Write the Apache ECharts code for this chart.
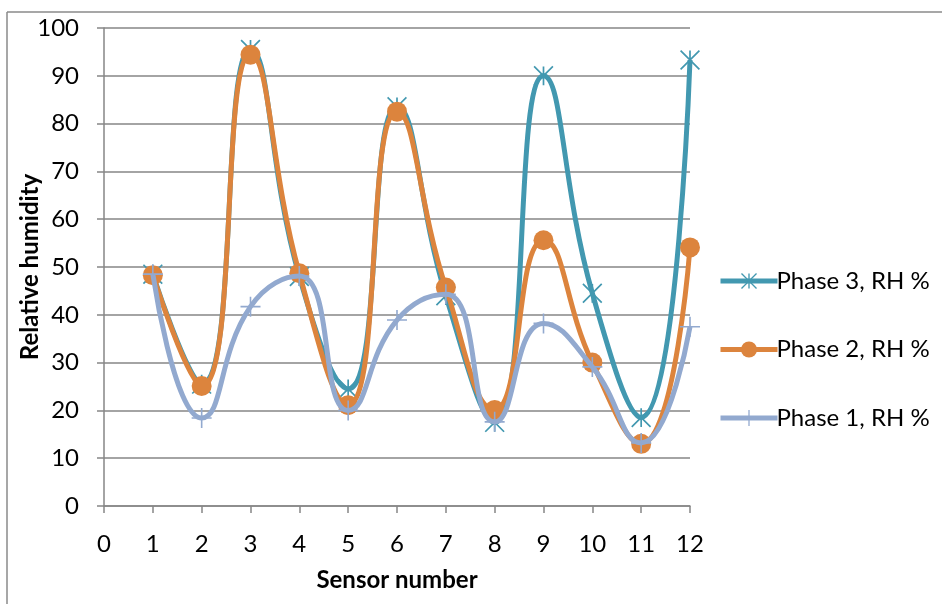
<!DOCTYPE html>
<html>
<head>
<meta charset="utf-8">
<script src="https://cdn.jsdelivr.net/npm/echarts@6/dist/echarts.min.js"></script>
<style>
html,body{margin:0;padding:0;background:#fff;}
#chart{width:942px;height:604px;}
</style>
</head>
<body>
<div id="chart"></div>
<script>
var sensors = [1, 2, 3, 4, 5, 6, 7, 8, 9, 10, 11, 12];
var phase3 = [48.5, 25.5, 95.5, 48, 24.5, 83.5, 44, 17.5, 90, 44.5, 18.5, 93.3];
var phase2 = [48.3, 25.1, 94.4, 48.7, 21.1, 82.5, 45.7, 20.1, 55.6, 30.0, 13.0, 54.1];
var phase1 = [48.5, 18.4, 41.7, 48.1, 20.0, 38.9, 44.3, 17.6, 38.2, 29.1, 13.2, 37.5];
var seriesNames = ['Phase 3, RH %', 'Phase 2, RH %', 'Phase 1, RH %'];
var xTicks = {min: 0, max: 12, interval: 1};
var yTicks = {min: 0, max: 100, interval: 10};

var colors = ['#4298B0', '#DC843D', '#92A9CF'];
var asterisk = 'path://M9.1 0L10.9 0L10.9 20L9.1 20Z M0.636 -0.636L20.636 19.364L19.364 20.636L-0.636 0.636Z M19.364 -0.636L20.636 0.636L0.636 20.636L-0.636 19.364Z';
var plus = 'path://M9.2 0L10.8 0L10.8 20L9.2 20Z M0 9.2L20 9.2L20 10.8L0 10.8Z';

function pairs(vals) {
  return sensors.map(function (s, i) { return [s, vals[i]]; });
}

var font = 'Lato, "Noto Sans", sans-serif';
var chart = echarts.init(document.getElementById('chart'), null, {renderer: 'canvas'});
var gridColor = '#868686';

var option = {
  animation: false,
  backgroundColor: '#fff',
  textStyle: {fontFamily: font},
  graphic: [
    {type: 'line', shape: {x1: 7, y1: 12, x2: 942, y2: 12}, style: {stroke: '#8a8a8a', lineWidth: 1.5}, silent: true},
    {type: 'line', shape: {x1: 7, y1: 12, x2: 7, y2: 604}, style: {stroke: '#8a8a8a', lineWidth: 1.5}, silent: true}
  ],
  grid: {left: 104, right: 252, top: 28, bottom: 98, containLabel: false, outerBoundsMode: 'none'},
  legend: {
    orient: 'vertical',
    left: 718,
    top: 269,
    padding: 0,
    itemWidth: 57,
    itemHeight: 20,
    itemGap: 44.5,
    lineStyle: {width: 5},
    textStyle: {fontFamily: font, fontSize: 24, color: '#000', padding: [0, 0, 0, -6]},
    data: seriesNames
  },
  xAxis: {
    type: 'value',
    min: xTicks.min, max: xTicks.max, interval: xTicks.interval,
    name: 'Sensor number',
    nameLocation: 'middle',
    nameGap: 62,
    nameMoveOverlap: false,
    nameTextStyle: {fontFamily: font, fontSize: 24, fontWeight: 'bold', color: '#000'},
    axisLine: {show: true, onZero: false, lineStyle: {color: gridColor, width: 1.5}},
    axisTick: {show: true, length: 7, inside: false, lineStyle: {color: gridColor, width: 1.5}},
    axisLabel: {fontFamily: font, fontSize: 24, color: '#000', margin: 26},
    splitLine: {show: false}
  },
  yAxis: {
    type: 'value',
    min: yTicks.min, max: yTicks.max, interval: yTicks.interval,
    name: 'Relative humidity',
    nameLocation: 'middle',
    nameGap: 62,
    nameMoveOverlap: false,
    nameRotate: 90,
    nameTextStyle: {fontFamily: font, fontSize: 24, fontWeight: 'bold', color: '#000'},
    axisLine: {show: true, lineStyle: {color: gridColor, width: 1.5}},
    axisTick: {show: true, length: 7, inside: false, lineStyle: {color: gridColor, width: 1.5}},
    axisLabel: {fontFamily: font, fontSize: 24, color: '#000', margin: 25},
    splitLine: {show: true, lineStyle: {color: gridColor, width: 1.5}}
  },
  series: [
    {
      name: seriesNames[0], type: 'line', smooth: 0.5,
      data: pairs(phase3),
      symbol: asterisk, symbolSize: 20, showAllSymbol: true,
      lineStyle: {color: colors[0], width: 5},
      itemStyle: {color: colors[0], opacity: 1},
      z: 2
    },
    {
      name: seriesNames[1], type: 'line', smooth: 0.5,
      data: pairs(phase2),
      symbol: 'circle', symbolSize: 20, showAllSymbol: true,
      lineStyle: {color: colors[1], width: 5},
      itemStyle: {color: colors[1], opacity: 1},
      z: 3
    },
    {
      name: seriesNames[2], type: 'line', smooth: 0.5,
      data: pairs(phase1),
      symbol: plus, symbolSize: 20, showAllSymbol: true,
      lineStyle: {color: colors[2], width: 5},
      itemStyle: {color: colors[2], opacity: 1},
      z: 4
    }
  ]
};
chart.setOption(option);
</script>
</body>
</html>
